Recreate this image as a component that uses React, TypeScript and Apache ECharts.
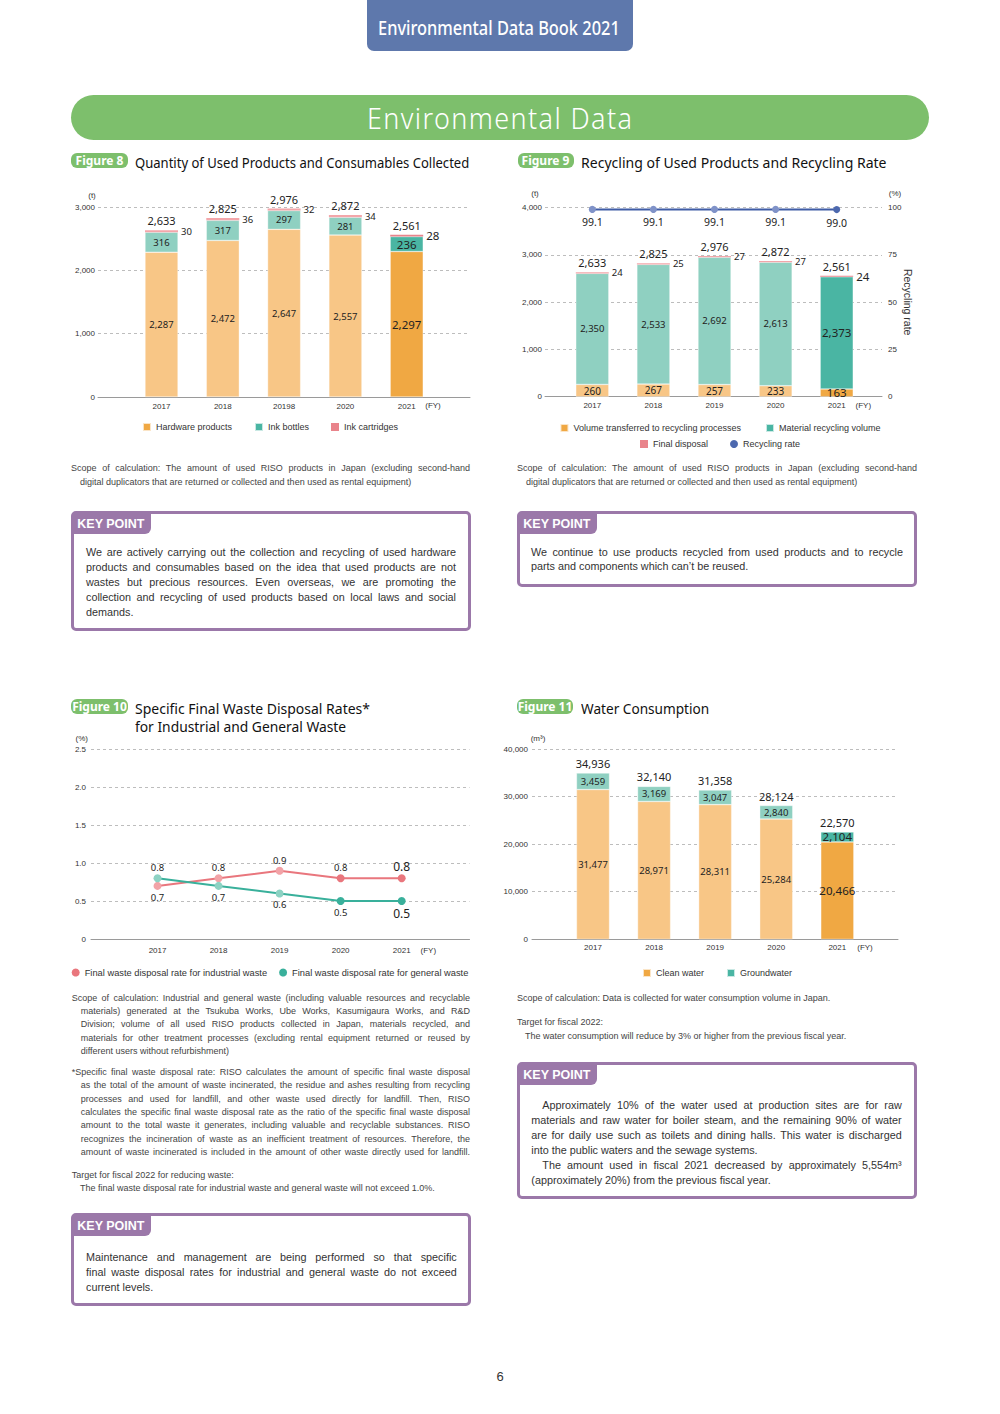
import React, { useEffect, useLayoutEffect, useRef } from "react";
import * as echarts from "echarts";

// ---------------- DATA ----------------
const years8 = ["2017", "2018", "20198", "2020", "2021"];
const hardware = [2287, 2472, 2647, 2557, 2297];
const inkBottles = [316, 317, 297, 281, 236];
const inkCartridges = [30, 36, 32, 34, 28];
const totals8 = [2633, 2825, 2976, 2872, 2561];

const years = ["2017", "2018", "2019", "2020", "2021"];
const transferred = [260, 267, 257, 233, 163];
const materialRecycling = [2350, 2533, 2692, 2613, 2373];
const finalDisposal = [24, 25, 27, 27, 24];
const totals9 = [2633, 2825, 2976, 2872, 2561];
const recyclingRate = [99.1, 99.1, 99.1, 99.1, 99.0];

const industrialRate = [0.7, 0.8, 0.9, 0.8, 0.8];
const generalRate = [0.8, 0.7, 0.6, 0.5, 0.5];
const industrialLabelPos = ["bottom", "top", "top", "top", "top"];
const generalLabelPos = ["top", "bottom", "bottom", "bottom", "bottom"];

const cleanWater = [31477, 28971, 28311, 25284, 20466];
const groundwater = [3459, 3169, 3047, 2840, 2104];
const totals11 = [34936, 32140, 31358, 28124, 22570];

// ---------------- STYLE ----------------
const AXIS_FONT = '"Liberation Sans", Arial, sans-serif';
const VAL_FONT = '"Noto Sans", sans-serif';
const BODY_FONT = '"Liberation Sans", Arial, sans-serif';
const TITLE_FONT = '"Noto Sans", sans-serif';

const C = {
  orange: "#f0a843",
  orangeLight: "#f8c686",
  teal: "#4ab5a3",
  tealLight: "#8fd0c1",
  pink: "#e9848b",
  pinkLight: "#f3a6aa",
  blue: "#3f5ca6",
  blueLight: "#7f92c8",
  blueDot: "#4c68ae",
  lineRed: "#e9767d",
  lineRedLight: "#f2a3a7",
  lineTeal: "#39b09b",
  lineTealLight: "#8dd2c3",
  green: "#7dbf6c",
  purple: "#9b78a9",
  navy: "#5e78ac",
};

const fmt = (v: number) => v.toLocaleString("en-US");
const axisLabelStyle = { fontFamily: AXIS_FONT, fontSize: 8, color: "#333" };
const dashedSplit = { show: true, lineStyle: { color: "#bdbdbd", type: [3, 3], width: 1 } };
const legendText = { fontFamily: AXIS_FONT, fontSize: 9, color: "#333" };

function gridBox(left: number, right: number, top: number, bottom: number) {
  return { left, right, top, bottom, containLabel: false, outerBoundsMode: "none" };
}

function unitText(x: number, y: number, text: string) {
  return {
    type: "text",
    x,
    y,
    silent: true,
    style: {
      text,
      fill: "#333",
      font: `8px ${AXIS_FONT}`,
      textAlign: "center",
      textVerticalAlign: "middle",
      align: "center",
      verticalAlign: "middle",
    },
  };
}

function stackData(values: number[], light: string, big = 11.5) {
  return values.map((v, i) =>
    i === values.length - 1
      ? { value: v, label: { fontSize: big } }
      : { value: v, itemStyle: { color: light } }
  );
}

function valLabel(position: string, size: number, extra: any = {}) {
  return {
    show: true,
    position,
    fontFamily: VAL_FONT,
    fontSize: size,
    color: "#222",
    formatter: (p: any) => fmt(p.value),
    ...extra,
  };
}

function totalSeries(values: number[], yAxisIndex: number) {
  return {
    name: "total",
    type: "bar",
    xAxisIndex: 1,
    yAxisIndex,
    barWidth: 33,
    barGap: "-100%",
    silent: true,
    itemStyle: { color: "rgba(0,0,0,0)" },
    label: valLabel("top", 11, { distance: 4 }),
    data: values,
  };
}

function frameAxes(max: number, interval: number, fmtFn: any, labelMargin: number) {
  return {
    x: {
      gridIndex: 0,
      type: "value",
      min: 0,
      max: 1,
      axisLine: { show: true, onZero: false, lineStyle: { color: "#9a9a9a", width: 1 } },
      axisTick: { show: false },
      axisLabel: { show: false },
      splitLine: { show: false },
    },
    y: {
      gridIndex: 0,
      type: "value",
      min: 0,
      max,
      interval,
      axisLabel: { ...axisLabelStyle, margin: labelMargin, formatter: fmtFn },
      splitLine: dashedSplit,
      axisLine: { show: false },
      axisTick: { show: false },
    },
  };
}

function catAxis(data: string[], margin: number) {
  return {
    gridIndex: 1,
    type: "category",
    data,
    axisLine: { show: false },
    axisTick: { show: false },
    axisLabel: { ...axisLabelStyle, margin, interval: 0 },
  };
}

const segBorder = { borderColor: "rgba(255,255,255,0.7)", borderWidth: 0.5 };

// ---------------- FIGURE 8 ----------------
const f8 = frameAxes(3000, 1000, fmt, 3);
const fig8Option = {
  animation: false,
  grid: [gridBox(38, 10, 27, 53), gridBox(70.85, 42.65, 27, 53)],
  xAxis: [f8.x, catAxis(years8, 5)],
  yAxis: [f8.y, { gridIndex: 1, type: "value", min: 0, max: 3000, show: false }],
  legend: {
    data: ["Hardware products", "Ink bottles", "Ink cartridges"],
    top: 237,
    left: "center",
    icon: "rect",
    itemWidth: 8,
    itemHeight: 8,
    itemGap: 22,
    textStyle: legendText,
  },
  graphic: [unitText(32, 15, "(t)"), unitText(373, 225.7, "(FY)")],
  series: [
    {
      name: "Hardware products",
      type: "bar",
      stack: "a",
      xAxisIndex: 1,
      yAxisIndex: 1,
      barWidth: 33,
      itemStyle: { color: C.orange, ...segBorder },
      label: valLabel("inside", 9.5),
      data: stackData(hardware, C.orangeLight),
    },
    {
      name: "Ink bottles",
      type: "bar",
      stack: "a",
      xAxisIndex: 1,
      yAxisIndex: 1,
      barWidth: 33,
      itemStyle: { color: C.teal, ...segBorder },
      label: valLabel("inside", 9.5),
      data: stackData(inkBottles, C.tealLight),
    },
    {
      name: "Ink cartridges",
      type: "bar",
      stack: "a",
      xAxisIndex: 1,
      yAxisIndex: 1,
      barWidth: 33,
      itemStyle: { color: C.pink },
      label: valLabel("right", 9.5, { distance: 3 }),
      data: stackData(inkCartridges, C.pinkLight, 11.5),
    },
    totalSeries(totals8, 1),
  ],
};

// ---------------- FIGURE 9 ----------------
const f9 = frameAxes(4000, 1000, fmt, 3);
const fig9Option = {
  animation: false,
  grid: [gridBox(35, 48, 27.7, 58.3), gridBox(51.75, 62.75, 27.7, 58.3)],
  xAxis: [f9.x, catAxis(years, 5)],
  yAxis: [
    f9.y,
    {
      gridIndex: 0,
      type: "value",
      position: "right",
      min: 0,
      max: 100,
      interval: 25,
      axisLabel: { ...axisLabelStyle, margin: 6 },
      splitLine: { show: false },
      axisLine: { show: false },
      axisTick: { show: false },
      name: "Recycling rate",
      nameLocation: "middle",
      nameRotate: -90,
      nameGap: 20,
      nameMoveOverlap: false,
      nameTextStyle: { fontFamily: AXIS_FONT, fontSize: 10.5, color: "#333" },
    },
    { gridIndex: 1, type: "value", min: 0, max: 4000, show: false },
    { gridIndex: 1, type: "value", min: 0, max: 100, show: false },
  ],
  legend: [
    {
      data: ["Volume transferred to recycling processes", "Material recycling volume"],
      top: 238,
      left: "center",
      icon: "rect",
      itemWidth: 8,
      itemHeight: 8,
      itemGap: 24,
      textStyle: legendText,
    },
    {
      data: [
        { name: "Final disposal", icon: "rect" },
        { name: "Recycling rate", icon: "circle" },
      ],
      top: 254.5,
      left: "center",
      itemWidth: 8,
      itemHeight: 8,
      itemGap: 22,
      textStyle: legendText,
    },
  ],
  graphic: [unitText(25, 13.3, "(t)"), unitText(385, 13.3, "(%)"), unitText(353.3, 225.7, "(FY)")],
  series: [
    {
      name: "Volume transferred to recycling processes",
      type: "bar",
      stack: "b",
      xAxisIndex: 1,
      yAxisIndex: 2,
      barWidth: 33,
      itemStyle: { color: C.orange, ...segBorder },
      label: valLabel("inside", 10),
      data: stackData(transferred, C.orangeLight),
    },
    {
      name: "Material recycling volume",
      type: "bar",
      stack: "b",
      xAxisIndex: 1,
      yAxisIndex: 2,
      barWidth: 33,
      itemStyle: { color: C.teal, ...segBorder },
      label: valLabel("inside", 9.5),
      data: stackData(materialRecycling, C.tealLight),
    },
    {
      name: "Final disposal",
      type: "bar",
      stack: "b",
      xAxisIndex: 1,
      yAxisIndex: 2,
      barWidth: 33,
      itemStyle: { color: C.pink },
      label: valLabel("right", 9.5, { distance: 3 }),
      data: stackData(finalDisposal, C.pinkLight, 11.5),
    },
    totalSeries(totals9, 2),
    {
      name: "Recycling rate",
      type: "line",
      xAxisIndex: 1,
      yAxisIndex: 3,
      symbol: "circle",
      symbolSize: 7,
      lineStyle: { color: C.blue, width: 2 },
      itemStyle: { color: C.blueDot },
      label: {
        show: true,
        position: "bottom",
        distance: 4,
        fontFamily: VAL_FONT,
        fontSize: 10.5,
        color: "#222",
        formatter: (p: any) => p.value.toFixed(1),
      },
      data: recyclingRate.map((v, i) =>
        i === recyclingRate.length - 1
          ? { value: v, itemStyle: { color: C.blueDot } }
          : { value: v, itemStyle: { color: C.blueLight } }
      ),
    },
  ],
};

// ---------------- FIGURE 10 ----------------
const f10 = frameAxes(2.5, 0.5, (v: number) => (v === 0 ? "0" : v.toFixed(1)), 5);
function rateData(values: number[], pos: string[], light: string, dark: string) {
  return values.map((v, i) => ({
    value: v,
    itemStyle: { color: i < 3 ? light : dark },
    label: {
      position: pos[i],
      distance: pos[i] === "top" ? 1.5 : 2.5,
      fontSize: i === values.length - 1 ? 12 : 9.5,
    },
  }));
}
const rateLabel = {
  show: true,
  fontFamily: VAL_FONT,
  color: "#222",
  formatter: (p: any) => p.value.toFixed(1),
};
const fig10Option = {
  animation: false,
  grid: [gridBox(31, 10.5, 19.3, 46), gridBox(67, 47.8, 19.3, 46)],
  xAxis: [f10.x, catAxis(years, 7)],
  yAxis: [f10.y, { gridIndex: 1, type: "value", min: 0, max: 2.5, show: false }],
  legend: {
    data: ["Final waste disposal rate for industrial waste", "Final waste disposal rate for general waste"],
    top: 233,
    left: "center",
    icon: "circle",
    itemWidth: 8,
    itemHeight: 8,
    itemGap: 12,
    textStyle: { ...legendText, fontSize: 9.3 },
  },
  graphic: [unitText(21.7, 8.3, "(%)"), unitText(368.3, 220, "(FY)")],
  series: [
    {
      name: "Final waste disposal rate for industrial waste",
      type: "line",
      xAxisIndex: 1,
      yAxisIndex: 1,
      symbol: "circle",
      symbolSize: 8,
      lineStyle: { color: C.lineRed, width: 2 },
      itemStyle: { color: C.lineRed },
      label: rateLabel,
      data: rateData(industrialRate, industrialLabelPos, C.lineRedLight, C.lineRed),
    },
    {
      name: "Final waste disposal rate for general waste",
      type: "line",
      xAxisIndex: 1,
      yAxisIndex: 1,
      symbol: "circle",
      symbolSize: 8,
      lineStyle: { color: C.lineTeal, width: 2 },
      itemStyle: { color: C.lineTeal },
      label: rateLabel,
      data: rateData(generalRate, generalLabelPos, C.lineTealLight, C.lineTeal),
    },
  ],
};

// ---------------- FIGURE 11 ----------------
const f11 = frameAxes(40000, 10000, fmt, 4);
const fig11Option = {
  animation: false,
  grid: [gridBox(35, 39, 19, 45.7), gridBox(65.45, 69.15, 19, 45.7)],
  xAxis: [f11.x, catAxis(years, 4)],
  yAxis: [f11.y, { gridIndex: 1, type: "value", min: 0, max: 40000, show: false }],
  legend: {
    data: ["Clean water", "Groundwater"],
    top: 233,
    left: "center",
    icon: "rect",
    itemWidth: 8,
    itemHeight: 8,
    itemGap: 22,
    textStyle: legendText,
  },
  graphic: [unitText(41, 8.3, "(m³)"), unitText(368, 217.3, "(FY)")],
  series: [
    {
      name: "Clean water",
      type: "bar",
      stack: "w",
      xAxisIndex: 1,
      yAxisIndex: 1,
      barWidth: 33,
      itemStyle: { color: C.orange, ...segBorder },
      label: valLabel("inside", 9.5),
      data: stackData(cleanWater, C.orangeLight),
    },
    {
      name: "Groundwater",
      type: "bar",
      stack: "w",
      xAxisIndex: 1,
      yAxisIndex: 1,
      barWidth: 33,
      itemStyle: { color: C.teal, ...segBorder },
      label: valLabel("inside", 9.5),
      data: stackData(groundwater, C.tealLight),
    },
    totalSeries(totals11, 1),
  ],
};

// ---------------- TEXT BLOCKS ----------------
type Line = { t: string; x: number; y: number; w?: number; j?: boolean };

const scopeText1 = "Scope of calculation: The amount of used RISO products in Japan (excluding second-hand";
const scopeText2 = "digital duplicators that are returned or collected and then used as rental equipment)";

const notes8: Line[] = [
  { t: scopeText1, x: 71, y: 468, w: 399, j: true },
  { t: scopeText2, x: 80, y: 482 },
];
const notes9: Line[] = [
  { t: scopeText1, x: 517, y: 468, w: 400, j: true },
  { t: scopeText2, x: 526, y: 482 },
];
const notes10: Line[] = [
  { t: "Scope of calculation: Industrial and general waste (including valuable resources and recyclable", x: 71.7, y: 998.5, w: 398.3, j: true },
  { t: "materials) generated at the Tsukuba Works, Ube Works, Kasumigaura Works, and R&D", x: 80.7, y: 1011.7, w: 389.3, j: true },
  { t: "Division; volume of all used RISO products collected in Japan, materials recycled, and", x: 80.7, y: 1024.9, w: 389.3, j: true },
  { t: "materials for other treatment processes (excluding rental equipment returned or reused by", x: 80.7, y: 1038.1, w: 389.3, j: true },
  { t: "different users without refurbishment)", x: 80.7, y: 1051.3 },
  { t: "*Specific final waste disposal rate: RISO calculates the amount of specific final waste disposal", x: 71.7, y: 1072.3, w: 398.3, j: true },
  { t: "as the total of the amount of waste incinerated, the residue and ashes resulting from recycling", x: 80.7, y: 1085.7, w: 389.3, j: true },
  { t: "processes and used for landfill, and other waste used directly for landfill. Then, RISO", x: 80.7, y: 1099.1, w: 389.3, j: true },
  { t: "calculates the specific final waste disposal rate as the ratio of the specific final waste disposal", x: 80.7, y: 1112.5, w: 389.3, j: true },
  { t: "amount to the total waste it generates, including valuable and recyclable substances. RISO", x: 80.7, y: 1125.9, w: 389.3, j: true },
  { t: "recognizes the incineration of waste as an inefficient treatment of resources. Therefore, the", x: 80.7, y: 1139.3, w: 389.3, j: true },
  { t: "amount of waste incinerated is included in the amount of other waste directly used for landfill.", x: 80.7, y: 1152.7, w: 389.3, j: true },
  { t: "Target for fiscal 2022 for reducing waste:", x: 71.7, y: 1175 },
  { t: "The final waste disposal rate for industrial waste and general waste will not exceed 1.0%.", x: 80, y: 1188.3 },
];
const notes11: Line[] = [
  { t: "Scope of calculation: Data is collected for water consumption volume in Japan.", x: 517, y: 998.3 },
  { t: "Target for fiscal 2022:", x: 517, y: 1022.7 },
  { t: "The water consumption will reduce by 3% or higher from the previous fiscal year.", x: 525, y: 1036 },
];

const kp1: Line[] = [
  { t: "We are actively carrying out the collection and recycling of used hardware", x: 86, y: 552.3, w: 370, j: true },
  { t: "products and consumables based on the idea that used products are not", x: 86, y: 567.3, w: 370, j: true },
  { t: "wastes but precious resources. Even overseas, we are promoting the", x: 86, y: 582.3, w: 370, j: true },
  { t: "collection and recycling of used products based on local laws and social", x: 86, y: 597.3, w: 370, j: true },
  { t: "demands.", x: 86, y: 612.3 },
];
const kp2: Line[] = [
  { t: "We continue to use products recycled from used products and to recycle", x: 531, y: 552, w: 372, j: true },
  { t: "parts and components which can’t be reused.", x: 531, y: 566.7 },
];
const kp3: Line[] = [
  { t: "Maintenance and management are being performed so that specific", x: 86, y: 1257.3, w: 370.7, j: true },
  { t: "final waste disposal rates for industrial and general waste do not exceed", x: 86, y: 1272.3, w: 370.7, j: true },
  { t: "current levels.", x: 86, y: 1287.3 },
];
const kp4: Line[] = [
  { t: "Approximately 10% of the water used at production sites are for raw", x: 542.3, y: 1105, w: 359.4, j: true },
  { t: "materials and raw water for boiler steam, and the remaining 90% of water", x: 531.3, y: 1120, w: 370.4, j: true },
  { t: "are for daily use such as toilets and dining halls. This water is discharged", x: 531.3, y: 1135, w: 370.4, j: true },
  { t: "into the public waters and the sewage systems.", x: 531.3, y: 1150 },
  { t: "The amount used in fiscal 2021 decreased by approximately 5,554m³", x: 542.3, y: 1165, w: 359.4, j: true },
  { t: "(approximately 20%) from the previous fiscal year.", x: 531.3, y: 1180 },
];

// ---------------- COMPONENTS ----------------
function EChart({ option, left, top, width, height }: any) {
  const ref = useRef<HTMLDivElement>(null);
  useEffect(() => {
    const chart = echarts.init(ref.current as HTMLDivElement, null, { renderer: "svg" });
    chart.setOption(option);
    return () => chart.dispose();
  }, []);
  return <div ref={ref} style={{ position: "absolute", left, top, width, height }} />;
}

// Text squeezed horizontally to a target width (the original uses a narrow face)
function FitText({ x, y, w, text, size, color, weight = 400, spacing = 0 }: any) {
  const ref = useRef<HTMLSpanElement>(null);
  useLayoutEffect(() => {
    const el = ref.current;
    if (!el) return;
    const actual = el.offsetWidth;
    if (actual > 0) el.style.transform = `scaleX(${w / actual})`;
  }, []);
  return (
    <div
      style={{
        position: "absolute",
        left: x,
        top: y - 12,
        height: 24,
        lineHeight: "24px",
        whiteSpace: "nowrap",
      }}
    >
      <span
        ref={ref}
        style={{
          display: "inline-block",
          transformOrigin: "left",
          fontFamily: TITLE_FONT,
          fontSize: size,
          fontWeight: weight,
          letterSpacing: spacing,
          color,
        }}
      >
        {text}
      </span>
    </div>
  );
}

function TextLines({ lines, size, color, lh }: { lines: Line[]; size: number; color: string; lh: number }) {
  return (
    <>
      {lines.map((l, i) => (
        <div
          key={i}
          style={{
            position: "absolute",
            left: l.x,
            top: l.y - lh / 2,
            width: l.w ?? 420,
            height: lh,
            lineHeight: `${lh}px`,
            fontSize: size,
            color,
            fontFamily: BODY_FONT,
            textAlign: l.j ? "justify" : "left",
            textAlignLast: l.j ? "justify" : "left",
            whiteSpace: l.j ? "normal" : "nowrap",
            overflow: "visible",
          }}
        >
          {l.t}
        </div>
      ))}
    </>
  );
}

function KeyBox({ x, y, w, h }: any) {
  return (
    <div
      style={{
        position: "absolute",
        left: x,
        top: y,
        width: w,
        height: h,
        border: `3px solid ${C.purple}`,
        borderRadius: 5,
        boxSizing: "border-box",
      }}
    >
      <div
        style={{
          position: "absolute",
          left: 0,
          top: 0,
          width: 77.5,
          height: 20,
          background: C.purple,
          borderBottomRightRadius: 6,
          color: "#fff",
          fontFamily: AXIS_FONT,
          fontWeight: "bold",
          fontSize: 12.5,
          lineHeight: "21px",
          paddingLeft: 3.8,
          boxSizing: "border-box",
          whiteSpace: "nowrap",
        }}
      >
        KEY POINT
      </div>
    </div>
  );
}

function Pill({ x, y, w, text }: any) {
  return (
    <div
      style={{
        position: "absolute",
        left: x,
        top: y,
        width: w,
        height: 15,
        background: C.green,
        borderRadius: 6,
        color: "#fff",
        fontFamily: TITLE_FONT,
        fontWeight: "bold",
        fontSize: 12,
        lineHeight: "15px",
        textAlign: "center",
        whiteSpace: "nowrap",
      }}
    >
      {text}
    </div>
  );
}

export default function App() {
  return (
    <div
      style={{
        position: "absolute",
        left: 0,
        top: 0,
        width: 1000,
        height: 1414,
        background: "#fff",
        overflow: "hidden",
        fontFamily: BODY_FONT,
      }}
    >
      {/* Header tab */}
      <div
        style={{
          position: "absolute",
          left: 367,
          top: -8,
          width: 266,
          height: 59,
          background: C.navy,
          borderRadius: 7,
        }}
      />
      <FitText x={378} y={28} w={242} text="Environmental Data Book 2021" size={19.5} color="#fff" weight={500} />

      {/* Green banner */}
      <div
        style={{
          position: "absolute",
          left: 71,
          top: 95,
          width: 858,
          height: 45,
          background: C.green,
          borderRadius: 23,
        }}
      />
      <FitText x={367} y={118} w={266} text="Environmental Data" size={29} color="#fff" weight={300} spacing={1.5} />

      {/* Figure 8 */}
      <Pill x={71} y={153} w={57} text="Figure 8" />
      <FitText x={135} y={162} w={334} text="Quantity of Used Products and Consumables Collected" size={15} color="#111" />
      <EChart option={fig8Option} left={60} top={180} width={420} height={270} />
      <TextLines lines={notes8} size={9} color="#444" lh={13} />
      <KeyBox x={70.5} y={511} w={400} h={120} />
      <TextLines lines={kp1} size={10.8} color="#333" lh={15} />

      {/* Figure 9 */}
      <Pill x={517.5} y={152.5} w={56} text="Figure 9" />
      <FitText x={581} y={162} w={306} text="Recycling of Used Products and Recycling Rate" size={15} color="#111" />
      <EChart option={fig9Option} left={510} top={180} width={420} height={275} />
      <TextLines lines={notes9} size={9} color="#444" lh={13} />
      <KeyBox x={516.5} y={511} w={400} h={76} />
      <TextLines lines={kp2} size={10.8} color="#333" lh={15} />

      {/* Figure 10 */}
      <Pill x={71} y={699} w={57} text="Figure 10" />
      <FitText x={135} y={708} w={235} text="Specific Final Waste Disposal Rates*" size={15} color="#111" />
      <FitText x={135} y={726} w={211} text="for Industrial and General Waste" size={15} color="#111" />
      <EChart option={fig10Option} left={60} top={730} width={420} height={255} />
      <TextLines lines={notes10} size={9} color="#444" lh={13} />
      <KeyBox x={70.5} y={1213} w={400} h={93} />
      <TextLines lines={kp3} size={10.8} color="#333" lh={15} />

      {/* Figure 11 */}
      <Pill x={517} y={699} w={56} text="Figure 11" />
      <FitText x={581} y={708} w={128} text="Water Consumption" size={15} color="#111" />
      <EChart option={fig11Option} left={497} top={730} width={440} height={255} />
      <TextLines lines={notes11} size={9} color="#444" lh={13} />
      <KeyBox x={516.5} y={1062} w={400} h={137} />
      <TextLines lines={kp4} size={10.8} color="#333" lh={15} />

      {/* Page number */}
      <div
        style={{
          position: "absolute",
          left: 490,
          top: 1369,
          width: 20,
          textAlign: "center",
          fontFamily: AXIS_FONT,
          fontSize: 13,
          color: "#333",
          lineHeight: "16px",
        }}
      >
        6
      </div>
    </div>
  );
}
